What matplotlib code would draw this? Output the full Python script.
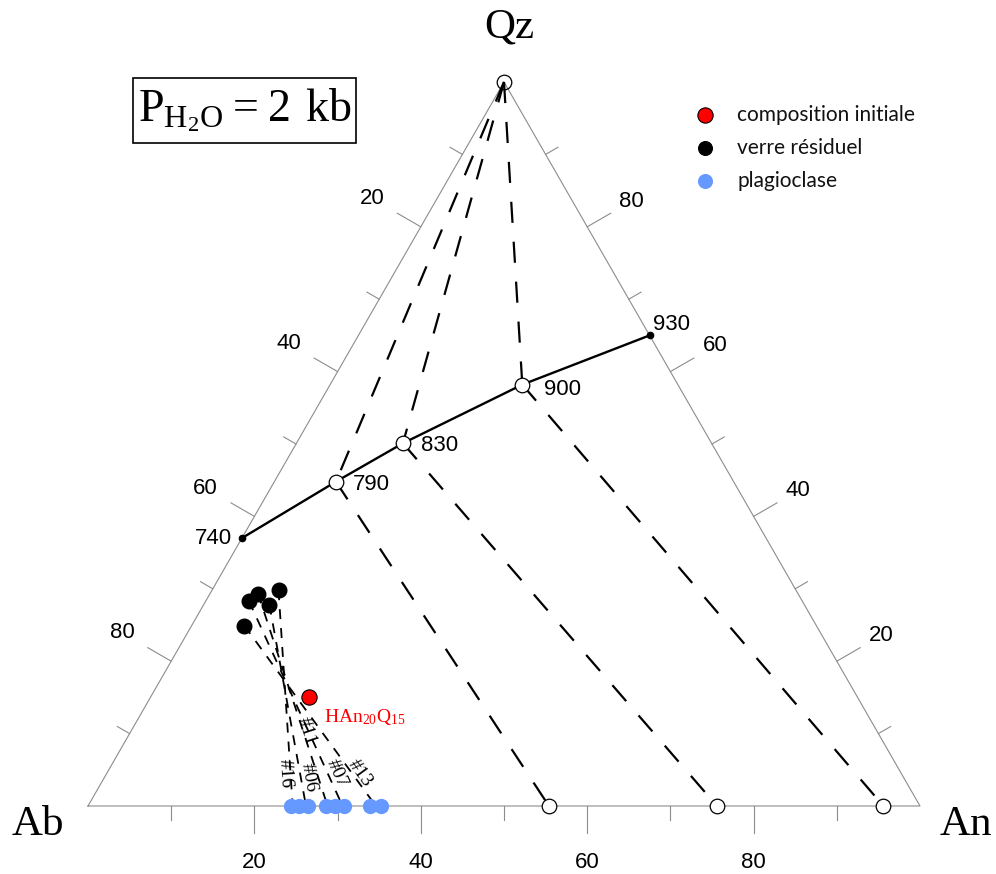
import numpy as np
import matplotlib
matplotlib.use("Agg")
import matplotlib.pyplot as plt
from matplotlib.patches import Rectangle

# ---------------- data (ternary Ab-An-Qz, wt%) ----------------
cot_an = [0.0, 7.4, 12.8, 23.1, 35.0]          # cotectic liquids
cot_qz = [37.0, 44.8, 50.1, 58.2, 65.0]
cot_T = ['740', '790', '830', '900', '930']
plag_eq_an = [55.4, 75.6, 95.6]                # plagioclase coexisting with 790/830/900 liquids

glass_an = [6.35, 5.2, 5.8, 7.9, 8.0]          # verre residuel
glass_qz = [24.9, 28.3, 29.3, 27.8, 29.8]
tie_labels = ['#13', '#07', '#11', '#06', '#16']
tie_plag_an = [34.6, 30.6, 28.8, 26.2, 24.6]
tie_label_t = [0.82, 0.84, 0.65, 0.86, 0.85]
tie_label_dx = [8, 9, 3, 8, -5]

plag_an = [24.4, 25.4, 26.4, 28.6, 29.7, 30.8, 33.9, 35.2]   # plagioclase
init_an, init_qz = 19.0, 15.1                                   # composition initiale

axis_ticks = [10, 20, 30, 40, 50, 60, 70, 80, 90]
axis_labels = [20, 40, 60, 80]

S3 = np.sqrt(3) / 2


def tern(an, qz):
    an = np.asarray(an, float)
    qz = np.asarray(qz, float)
    return an + qz / 2, qz * S3


fig = plt.figure(figsize=(9.96, 8.74), dpi=100)
ax = fig.add_axes([0, 0, 1, 1])
PX = 8.32
PY = 724 / (100 * S3)
ax.set_xlim(-88 / PX, (996 - 88) / PX)
ax.set_ylim(-(874 - 806) / PY, 806 / PY)
ax.axis('off')


def disp_angle(x0, y0, x1, y1):
    p0 = ax.transData.transform((x0, y0))
    p1 = ax.transData.transform((x1, y1))
    return np.degrees(np.arctan2(p1[1] - p0[1], p1[0] - p0[0]))


grey = '#8c8c8c'
tx, ty = tern([0, 100, 0, 0], [0, 0, 100, 0])
ax.plot(tx, ty, color=grey, lw=0.8, zorder=1)

tick_font = dict(family='Liberation Sans', fontsize=16, color='black')
k = PX / PY
for v in axis_ticks:
    L = 3.25 if v in axis_labels else 1.7
    x, y = tern(v, 0)
    ax.plot([x, x], [y, y - L * k], color=grey, lw=0.8)
    xl, yl = tern(0, 100 - v)
    dl = np.array([-S3, 0.5 * k])
    ax.plot([xl, xl + L * dl[0]], [yl, yl + L * dl[1]], color=grey, lw=0.8)
    xr, yr = tern(100 - v, v)
    dr = np.array([S3, 0.5 * k])
    ax.plot([xr, xr + L * dr[0]], [yr, yr + L * dr[1]], color=grey, lw=0.8)
    if v in axis_labels:
        ax.text(x, y - 6.8 * k, str(v), ha='center', va='center', **tick_font)
        ax.text(xl + 6.8 * dl[0], yl + 6.8 * dl[1], str(v), ha='center', va='center', **tick_font)
        ax.text(xr + 6.2 * dr[0], yr + 6.2 * dr[1], str(v), ha='center', va='center', **tick_font)

serif = 'Liberation Serif'
fig.text(38 / 996, 1 - 835 / 874, 'Ab', family=serif, fontsize=31, ha='center', va='baseline')
fig.text(966 / 996, 1 - 835 / 874, 'An', family=serif, fontsize=31, ha='center', va='baseline')
fig.text(509 / 996, 1 - 37 / 874, 'Qz', family=serif, fontsize=31, ha='center', va='baseline')

# dashed tie lines Qz - liquid - plagioclase
dash = (0, (9.5, 8.5))
qx, qy = tern(0, 100)
for i, pan in zip([1, 2, 3], plag_eq_an):
    cx, cy = tern(cot_an[i], cot_qz[i])
    px_, py_ = tern(pan, 0)
    ax.plot([qx, cx], [qy, cy], color='black', lw=1.6, ls=dash, zorder=2)
    ax.plot([cx, px_], [cy, py_], color='black', lw=1.6, ls=dash, zorder=2)

# cotectic line
cx, cy = tern(cot_an, cot_qz)
ax.plot(cx, cy, color='black', lw=1.7, zorder=3)
ax.plot(cx[[0, 4]], cy[[0, 4]], 'o', color='black', ms=4.5, zorder=4)
ax.plot(cx[1:4], cy[1:4], 'o', mfc='white', mec='black', mew=0.9, ms=10.5, zorder=4)
pbx, pby = tern(plag_eq_an, [0, 0, 0])
ax.plot(pbx, pby, 'o', mfc='white', mec='black', mew=0.9, ms=10.5, zorder=4)
ax.plot([qx], [qy], 'o', mfc='none', mec='black', mew=0.9, ms=10.5, zorder=4)

T_off = [(-10, 0, 'right'), (17, -3, 'left'), (18, -2, 'left'), (22, -5, 'left'), (3, 11, 'left')]
for i, t in enumerate(cot_T):
    dx, dy, ha = T_off[i]
    ax.annotate(t, (cx[i], cy[i]), xytext=(dx, dy), textcoords='offset pixels',
                ha=ha, va='center', **tick_font)

# sample tie lines glass - plagioclase
for gan, gqz, pan, lab, t, ldx in zip(glass_an, glass_qz, tie_plag_an, tie_labels,
                                     tie_label_t, tie_label_dx):
    gx, gy = tern(gan, gqz)
    px_, py_ = tern(pan, 0)
    ax.plot([gx, px_], [gy, py_], color='black', lw=1.3, ls=(0, (5.5, 5)), zorder=2)
    ang = disp_angle(gx, gy, px_, py_)
    lx, ly = gx + t * (px_ - gx), gy + t * (py_ - gy)
    ax.annotate(lab, (lx, ly), xytext=(ldx, 0), textcoords='offset pixels', family=serif,
                fontsize=14, rotation=ang, rotation_mode='anchor', ha='center', va='center',
                zorder=5)

blue = '#6699ff'
bx, by = tern(plag_an, np.zeros(len(plag_an)))
ax.plot(bx, by, 'o', color=blue, ms=11, mew=0, zorder=5, clip_on=False)
gx, gy = tern(glass_an, glass_qz)
ax.plot(gx, gy, 'o', color='black', ms=10.5, zorder=5)
ix, iy = tern(init_an, init_qz)
ax.plot([ix], [iy], 'o', mfc='red', mec='black', mew=0.8, ms=11, zorder=6)
ax.annotate(r'$\mathregular{HAn_{20}Q_{15}}$', (ix, iy), xytext=(15, -20),
            textcoords='offset pixels', color='red', fontsize=14, family=serif,
            ha='left', va='center')

# pressure box
fig.patches.append(Rectangle((133 / 996, 1 - 143 / 874), 223 / 996, 65 / 874,
                             transform=fig.transFigure, fill=False, ec='black', lw=1.2))
fig.text(245 / 996, 1 - 121 / 874, r'$\mathregular{P_{H_2O} = 2\ kb}$', fontsize=33,
         family=serif, ha='center', va='baseline')

# legend
leg = [('red', 'black', 'composition initiale', 11), ('black', 'black', 'verre résiduel', 10),
       (blue, blue, 'plagioclase', 10)]
for j, (fc, ec, lab, ms) in enumerate(leg):
    yy = 1 - (115 + 33 * j) / 874
    ax.plot([705 / 996], [yy], 'o', mfc=fc, mec=ec, mew=0.8, ms=ms, transform=fig.transFigure,
            clip_on=False)
    fig.text(737 / 996, yy, lab, family='Lato', fontsize=15, ha='left', va='center', color='#111111')

fig.savefig('out.png', dpi=100)
